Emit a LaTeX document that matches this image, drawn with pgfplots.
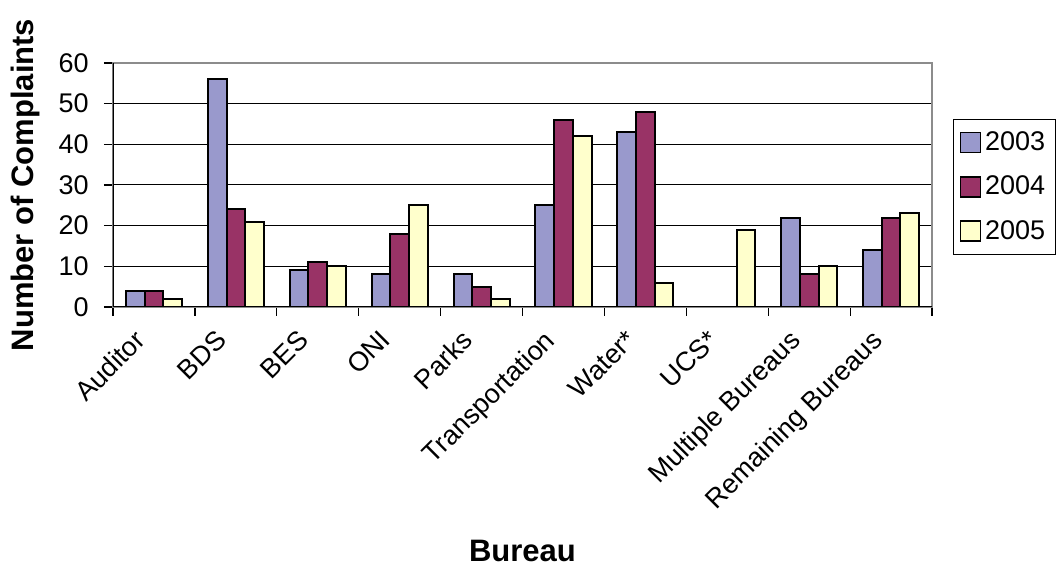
\documentclass[border=0pt]{standalone}
\usepackage{pgfplots}
\pgfplotsset{compat=1.18}
\usepackage{fontspec}
\setmainfont{Liberation Sans}
\definecolor{c03}{RGB}{153,153,204}
\definecolor{c04}{RGB}{153,51,102}
\definecolor{c05}{RGB}{255,255,204}
\definecolor{frame}{RGB}{140,140,140}
\begin{document}
\begin{tikzpicture}
\begin{axis}[
  name=ax,
  scale only axis,
  width=409.5pt, height=122pt,
  xmin=-0.5, xmax=9.5, ymin=0, ymax=60,
  ybar=0pt, bar width=9.35pt,
  xtick={0,1,2,3,4,5,6,7,8,9},
  xticklabels={Auditor,BDS,BES,ONI,Parks,Transportation,Water*,UCS*,Multiple Bureaus,Remaining Bureaus},
  minor xtick={-0.5,0.5,1.5,2.5,3.5,4.5,5.5,6.5,7.5,8.5,9.5},
  major x tick style={draw=none},
  minor x tick style={black, line width=0.6pt},
  ytick={0,10,20,30,40,50,60},
  major y tick style={black, line width=0.6pt},
  xtick pos=bottom, ytick pos=left,
  tick align=outside,
  major tick length=4.5pt, minor tick length=4.5pt,
  ymajorgrids, grid style={black, line width=0.5pt},
  axis line style={draw=frame, line width=1pt},
  /pgf/number format/assume math mode=true,
  tick label style={font=\fontsize{13.5}{15}\selectfont},
  xticklabel style={inner sep=0pt, anchor=north east, xshift=-10.5pt, yshift=-6pt, rotate=45},
  yticklabel style={inner sep=0pt, anchor=east, xshift=-7.5pt},
  every axis y label/.style={at={(axis description cs:0,0.5)}, anchor=center, xshift=-44pt, rotate=90, font=\fontsize{15.5}{18}\selectfont\bfseries},
  every axis x label/.style={at={(axis description cs:0.5,0)}, anchor=center, yshift=-122pt, font=\fontsize{15.5}{18}\selectfont\bfseries},
  ylabel={Number of Complaints},
  xlabel={Bureau},
  legend style={at={(1.0256,0.7705)}, anchor=north west, draw=black, line width=0.6pt,
    font=\fontsize{13.5}{15}\selectfont, row sep=7.25pt, inner xsep=3pt, inner ysep=4pt,
    nodes={inner sep=2pt}},
  legend cell align=left,
  legend image code/.code={\draw[#1, line width=0.8pt] (0pt,-5pt) rectangle (10pt,5pt);},
]
\addplot[fill=c03, draw=black, line width=1pt] coordinates {(0,4) (1,56) (2,9) (3,8) (4,8) (5,25) (6,43) (7,0) (8,22) (9,14)};
\addplot[fill=c04, draw=black, line width=1pt] coordinates {(0,4) (1,24) (2,11) (3,18) (4,5) (5,46) (6,48) (7,0) (8,8) (9,22)};
\addplot[fill=c05, draw=black, line width=1pt] coordinates {(0,2) (1,21) (2,10) (3,25) (4,2) (5,42) (6,6) (7,19) (8,10) (9,23)};
\legend{2003,2004,2005}
\draw[black, line width=0.8pt] (rel axis cs:0,1) -- (rel axis cs:0,0) -- (rel axis cs:1,0);
\end{axis}
\pgfresetboundingbox
\path[use as bounding box] ([shift={(-56.5pt,-129pt)}]ax.south west) rectangle ([shift={(475pt,153.5pt)}]ax.south west);
\end{tikzpicture}
\end{document}
